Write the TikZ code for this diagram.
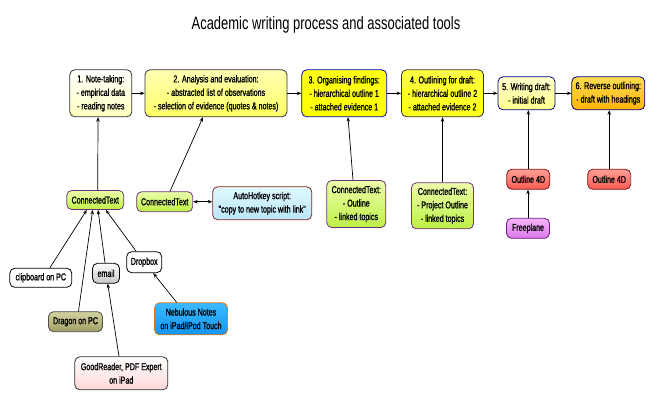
\documentclass[tikz,border=0pt]{standalone}
\usepackage{fontspec}
\setmainfont{Liberation Sans}[FakeStretch=0.72]
\newfontfamily\boxfont{Liberation Sans}[FakeStretch=0.71, FakeBold=1.2]
\usetikzlibrary{arrows.meta,calc}
\definecolor{ctborder}{RGB}{110,50,120}
\definecolor{cttop}{RGB}{235,255,170}
\definecolor{ctbot}{RGB}{190,240,70}
\definecolor{ahkborder}{RGB}{130,40,30}
\definecolor{ahktop}{RGB}{225,248,255}
\definecolor{ahkbot}{RGB}{185,230,250}
\definecolor{dragtop}{RGB}{210,210,160}
\definecolor{dragbot}{RGB}{160,160,100}
\definecolor{nebborder}{RGB}{230,120,20}
\definecolor{nebtop}{RGB}{60,185,255}
\definecolor{nebbot}{RGB}{20,150,240}
\definecolor{goodbot}{RGB}{255,215,215}
\definecolor{redborder}{RGB}{130,20,20}
\definecolor{redtop}{RGB}{255,160,150}
\definecolor{redbot}{RGB}{250,90,80}
\definecolor{frborder}{RGB}{110,30,130}
\definecolor{frtop}{RGB}{245,180,250}
\definecolor{frbot}{RGB}{220,120,235}
\definecolor{ortop}{RGB}{255,220,80}
\definecolor{orbot}{RGB}{255,180,10}
\begin{document}
\begin{tikzpicture}[x=1pt,y=-1pt,
  every node/.style={font=\boxfont\fontsize{10}{13.5}\selectfont, align=center, inner sep=1pt},
  box/.style={draw=#1, line width=0.8pt, rounded corners=5pt},
  conn/.style={line width=0.7pt, -{Stealth[length=4.5pt,width=3.5pt]}},
  lime/.style={box=ctborder, top color=cttop, bottom color=ctbot},
  red4d/.style={box=redborder, top color=redtop, bottom color=redbot, minimum width=43pt, minimum height=20pt},
]
\useasboundingbox (0,0) rectangle (658,405);
\fill[white] (0,0) rectangle (658,405);
\node[font=\rmfamily\fontsize{18}{20}\selectfont] (title) at (326,25) {Academic writing process and associated tools};

% top row
\node[box=black!80, top color=white, bottom color=yellow!25, minimum width=62pt, minimum height=47pt] (n1) at (100.8,93.3)
  {1. Note-taking:\\- empirical data\\- reading notes};
\node[box=black!80, top color=yellow!30, bottom color=yellow!60, minimum width=142pt, minimum height=47pt] (n2) at (216,93.3)
  {2. Analysis and evaluation:\\- abstracted list of observations\\- selection of evidence (quotes \& notes)};
\node[box=blue!70!black, top color=yellow!90, bottom color=yellow, minimum width=85pt, minimum height=47pt] (n3) at (344.2,93.3)
  {3. Organising findings:\\- hierarchical outline 1\\- attached evidence 1};
\node[box=black!80, top color=yellow!75, bottom color=yellow!90, minimum width=82pt, minimum height=47pt] (n4) at (442.5,93.3)
  {4. Outlining for draft:\\- hierarchical outline 2\\- attached evidence 2};
\node[box=blue!50!black, top color=yellow!20, bottom color=yellow!45, minimum width=57pt, minimum height=33pt] (n5) at (526.5,93.3)
  {5. Writing draft:\\- initial draft};
\node[box=blue!50!black, top color=ortop, bottom color=orbot, minimum width=73pt, minimum height=33pt] (n6) at (608.3,93.3)
  {6. Reverse outlining:\\- draft with headings};

\foreach \a/\b in {n1/n2,n2/n3,n3/n4,n4/n5,n5/n6}
  \draw[conn] (\a.east) -- (\a.east -| \b.west);

% tools
\node[lime, minimum width=57pt, minimum height=19pt] (ctA) at (95.3,200) {ConnectedText};
\node[lime, minimum width=56pt, minimum height=20pt] (ctB) at (164.7,201.7) {ConnectedText};
\node[box=ahkborder, top color=ahktop, bottom color=ahkbot, minimum width=99pt, minimum height=33pt] (ahk) at (262.2,203.3)
  {AutoHotkey script:\\"copy to new topic with link"};
\node[box=black, fill=white, minimum width=62pt, minimum height=19pt] (clip) at (40.8,277.8) {clipboard on PC};
\node[box=black, top color=white, bottom color=black!22, minimum width=27pt, minimum height=20pt] (email) at (106,273.3) {email};
\node[box=black, fill=white, minimum width=35pt, minimum height=21pt] (drop) at (144.2,262.2) {Dropbox};
\node[box=black!70, top color=dragtop, bottom color=dragbot, minimum width=54pt, minimum height=20pt] (drag) at (75.5,321.7) {Dragon on PC};
\node[box=nebborder, top color=nebtop, bottom color=nebbot, minimum width=73pt, minimum height=32pt] (neb) at (191,318.8)
  {Nebulous Notes\\on iPad/iPod Touch};
\node[box=black!80, top color=white, bottom color=goodbot, minimum width=93pt, minimum height=33pt] (good) at (121.3,373.3)
  {GoodReader, PDF Expert\\on iPad};
\node[lime, minimum width=59pt, minimum height=47pt] (ctC) at (356.3,204)
  {ConnectedText:\\- Outline\\- linked topics};
\node[lime, minimum width=62pt, minimum height=46pt] (ctD) at (442.5,205.8)
  {ConnectedText:\\- Project Outline\\- linked topics};
\node[red4d] (oE) at (528.3,179.3) {Outline 4D};
\node[red4d] (oF) at (609.2,179.3) {Outline 4D};
\node[box=frborder, top color=frtop, bottom color=frbot, minimum width=43pt, minimum height=20pt] (free) at (528,228.3) {Freeplane};

% connectors
\draw[conn] ([xshift=2.4pt]ctA.north) -- ([xshift=-2.8pt]n1.south);
\draw[conn] ([xshift=5.3pt]ctB.north) -- ([xshift=-13pt]n2.south);
\draw[conn] ([xshift=-3.3pt]ctC.north) -- ([xshift=3.8pt]n3.south);
\draw[conn] (ctD.north) -- (ctD.north |- n4.south);
\draw[conn] (oE.north) -- (oE.north |- n5.south);
\draw[conn] (oF.north) -- (oF.north |- n6.south);
\draw[conn] (free.north) -- (free.north |- oE.south);
\draw[line width=0.7pt, {Stealth[length=4.5pt,width=3.5pt]}-{Stealth[length=4.5pt,width=3.5pt]}] (ctB.east) -- (ctB.east -| ahk.west);
\draw[conn] ([xshift=9pt]clip.north) -- ([xshift=-8.5pt]ctA.south);
\draw[conn] ([xshift=3pt]drag.north) -- ([xshift=-2.6pt]ctA.south);
\draw[conn] ([xshift=-1pt]email.north) -- ([xshift=2.7pt]ctA.south);
\draw[conn] ([xshift=-8pt]drop.north) -- ([xshift=10.5pt]ctA.south);
\draw[conn] ([xshift=-2.3pt]good.north) -- ([xshift=1.7pt]email.south);
\draw[conn] ([xshift=-14.3pt]neb.north) -- ([xshift=9pt]drop.south);
\end{tikzpicture}
\end{document}
